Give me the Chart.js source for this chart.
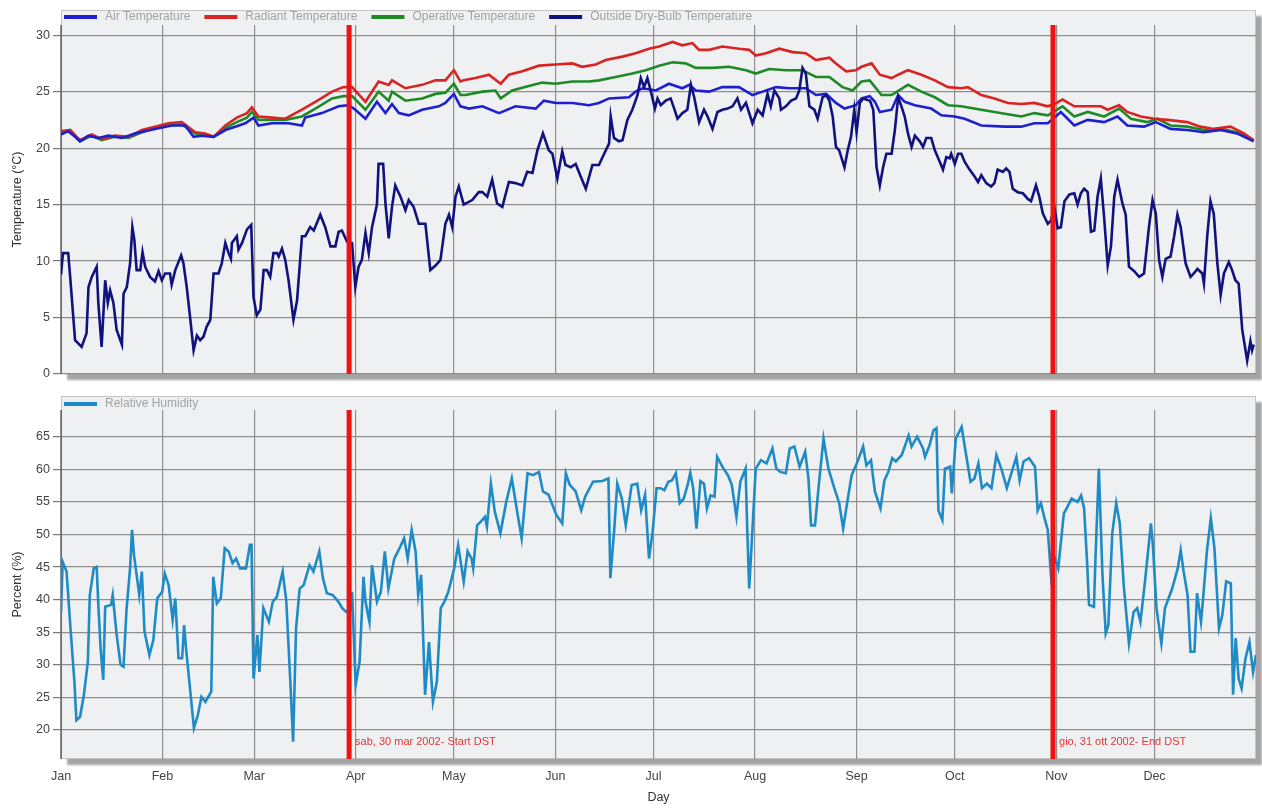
<!DOCTYPE html>
<html>
<head>
<meta charset="utf-8">
<script src="https://cdn.jsdelivr.net/npm/chart.js@4.4.1/dist/chart.umd.min.js"></script>
<style>
  html, body { margin: 0; padding: 0; background: #ffffff; }
  #wrap { position: relative; width: 1262px; height: 809px; overflow: hidden; }
  #tempBox { position: absolute; left: 0; top: 0; width: 1262px; height: 392px; }
  #rhBox { position: absolute; left: 0; top: 390px; width: 1262px; height: 419px; }
</style>
</head>
<body>
<div id="wrap">
  <div id="tempBox"><canvas id="tempChart" width="1262" height="392"></canvas></div>
  <div id="rhBox"><canvas id="rhChart" width="1262" height="419"></canvas></div>
</div>
<script>
// ---- Axis layout (day of year 2002, Jan 1 = 0) ----
const monthStarts = [0, 31, 59, 90, 120, 151, 181, 212, 243, 273, 304, 334];
const monthNames = ['Jan', 'Feb', 'Mar', 'Apr', 'May', 'Jun', 'Jul', 'Aug', 'Sep', 'Oct', 'Nov', 'Dec'];
const tempTicks = [0, 5, 10, 15, 20, 25, 30];
const rhTicks = [20, 25, 30, 35, 40, 45, 50, 55, 60, 65];

// ---- Daylight saving markers ----
const dstDays = [88, 303];
const dstLabels = ['sab, 30 mar 2002- Start DST', 'gio, 31 ott 2002- End DST'];

// ---- Air temperature (°C) ----
const airDays = [0, 2.2, 4.3, 5.8, 8.4, 11.4, 14.5, 18.6, 22.6, 28.7,
  33.8, 37.9, 40.5, 43, 46.6, 50.2, 53.2, 56.3, 58.8, 60.3,
  64.4, 69.5, 73.6, 74.6, 79.7, 84.8, 87.9, 89.9, 93, 96.5,
  99.1, 101.1, 103.2, 106.2, 110.3, 115.4, 117.4, 120, 122, 124.6,
  128.7, 133.8, 138.8, 145, 147.5, 151.1, 156.2, 161.3, 164.3, 167.4,
  173.5, 175.5, 177.6, 181.7, 185.7, 189.8, 191.9, 193.9, 198, 202,
  207.1, 211.2, 214.3, 218.4, 222.4, 227.5, 230.6, 233.7, 236.7, 239.3,
  242.8, 244.5, 247, 248.6, 250.1, 253.7, 255.7, 257.7, 260.8, 265.8,
  268.9, 273, 276, 281.1, 288.2, 293.3, 297.3, 301.4, 305.4, 309.5,
  313.6, 318.6, 322.7, 325.7, 330.8, 334.4, 338.9, 344, 349.1, 354.2,
  359.2, 364.3];
const airTemp = [21.2, 21.5, 21.0, 20.6, 21.1, 20.9, 21.1, 20.9, 21.3, 21.7,
  22.0, 22.0, 21.0, 21.1, 21.0, 21.6, 21.9, 22.2, 22.7, 22.0,
  22.2, 22.2, 22.0, 22.7, 23.1, 23.7, 23.8, 23.4, 22.6, 24.1,
  23.1, 23.9, 23.1, 22.9, 23.4, 23.7, 24.0, 24.8, 23.7, 23.5,
  23.7, 23.1, 23.7, 23.5, 24.2, 24.0, 24.0, 23.8, 24.0, 24.4,
  24.5, 25.0, 25.3, 25.1, 25.7, 25.3, 25.6, 25.1, 25.0, 25.4,
  25.4, 24.7, 25.0, 25.4, 25.3, 25.3, 24.7, 24.8, 24.0, 23.5,
  23.8, 24.4, 24.6, 24.1, 23.2, 23.4, 24.7, 24.1, 23.8, 23.5,
  22.9, 22.8, 22.6, 22.0, 21.9, 21.9, 22.2, 22.2, 23.2, 22.0,
  22.5, 22.3, 22.8, 22.0, 21.9, 22.3, 21.7, 21.6, 21.4, 21.6,
  21.3, 20.6];

// ---- Radiant temperature (°C) ----
const radDays = [0, 2.8, 5.8, 9.4, 12.4, 16.5, 20.6, 24.7, 28.7, 32.8,
  36.9, 41, 44, 46.6, 50.2, 53.7, 56.8, 58.3, 60.3, 64.4,
  68.5, 73.6, 77.7, 82.8, 86.3, 88.9, 93, 97, 100.1, 101.1,
  105.2, 110.3, 114.4, 117.4, 120, 122, 123, 126.6, 130.7, 134.3,
  136.8, 140.9, 146, 151.1, 156.2, 159.2, 163.3, 166.4, 171.5, 175.5,
  179.6, 182.7, 186.8, 189.8, 192.9, 194.9, 198, 202, 207.1, 210.2,
  212.2, 215.3, 219.4, 223.5, 227.5, 230.6, 234.7, 236.7, 239.8, 242.8,
  244.5, 247.6, 250.1, 253.7, 255.7, 258.7, 262.8, 266.9, 270.9, 275,
  277, 281.1, 285.1, 289.2, 293.3, 297.3, 301.4, 303.4, 305.9, 309.5,
  313.6, 317.6, 319.7, 323.2, 325.7, 329.8, 333.9, 337.9, 344, 348,
  352.1, 357.2, 361.3, 364.3];
const radTemp = [21.5, 21.6, 20.7, 21.2, 20.8, 21.1, 21.0, 21.6, 21.9, 22.2,
  22.3, 21.4, 21.3, 21.0, 22.0, 22.7, 23.1, 23.6, 22.8, 22.7,
  22.6, 23.4, 24.1, 25.0, 25.4, 25.4, 24.1, 25.9, 25.6, 26.0,
  25.3, 25.6, 26.0, 26.0, 26.9, 25.9, 26.0, 26.2, 26.5, 25.7,
  26.5, 26.8, 27.3, 27.4, 27.5, 27.2, 27.4, 27.8, 28.1, 28.4,
  28.8, 29.0, 29.4, 29.1, 29.3, 28.7, 28.7, 29.0, 28.8, 28.7,
  28.2, 28.4, 28.8, 28.5, 28.4, 27.8, 28.0, 27.5, 26.8, 26.9,
  27.2, 27.5, 26.5, 26.2, 26.5, 26.9, 26.5, 26.0, 25.4, 25.3,
  25.4, 24.7, 24.4, 24.0, 23.9, 24.0, 23.7, 23.9, 24.3, 23.7,
  23.7, 23.7, 23.4, 23.8, 23.2, 22.8, 22.6, 22.5, 22.3, 21.9,
  21.7, 21.9, 21.3, 20.7];

// ---- Operative temperature (°C) ----
const opDays = [0, 2.8, 5.8, 9.4, 12.4, 16.5, 20.6, 24.7, 28.7, 32.8,
  36.9, 41, 44, 46.6, 50.2, 53.7, 56.8, 58.3, 60.3, 64.4,
  68.5, 73.6, 77.7, 82.8, 86.3, 88.9, 93, 97, 100.1, 101.1,
  105.2, 110.3, 114.4, 117.4, 120, 122, 123.6, 128.7, 132.7, 134.3,
  137.8, 142.9, 147, 151.1, 156.2, 161.3, 164.3, 169.4, 174.5, 178.6,
  182.7, 186.8, 190.8, 193.9, 199, 204.1, 209.2, 212.2, 216.3, 221.4,
  226.5, 230.6, 234.7, 238.7, 241.8, 244.5, 247, 250.6, 253.7, 258.7,
  262.8, 266.9, 270.9, 275, 281.1, 285.1, 289.2, 293.3, 297.3, 301.4,
  305.9, 309.5, 313.6, 318.6, 323.2, 326.8, 331.8, 334.9, 338.9, 344,
  349.1, 354.2, 359.2, 364.3];
const opTemp = [21.4, 21.6, 20.6, 21.1, 20.7, 21.0, 20.9, 21.4, 21.8, 22.0,
  22.1, 21.3, 21.2, 21.0, 21.8, 22.3, 22.7, 23.2, 22.5, 22.5,
  22.5, 22.8, 23.5, 24.4, 24.6, 24.6, 23.4, 25.0, 24.2, 25.0,
  24.2, 24.4, 24.8, 24.9, 25.7, 24.7, 24.7, 25.0, 25.1, 24.4,
  25.1, 25.5, 25.8, 25.7, 25.9, 25.9, 26.0, 26.3, 26.6, 26.9,
  27.3, 27.6, 27.5, 27.1, 27.1, 27.2, 26.9, 26.6, 27.0, 26.9,
  26.9, 26.3, 26.3, 25.4, 25.1, 25.9, 26.0, 24.7, 24.7, 25.6,
  25.0, 24.5, 23.8, 23.7, 23.4, 23.2, 23.0, 22.8, 23.1, 22.9,
  23.7, 22.8, 23.2, 22.8, 23.5, 22.6, 22.3, 22.6, 22.0, 21.9,
  21.6, 21.7, 21.4, 20.7];

// ---- Outside dry-bulb temperature (°C) ----
const outDays = [0, 0.6, 2.2, 2.8, 4.3, 6.3, 7.8, 8.4, 9.4, 10.9,
  11.4, 12.4, 13.5, 14.3, 15, 16, 17, 18.6, 19.1, 20.1,
  21.1, 21.8, 22.4, 23.1, 24.2, 24.9, 25.7, 27.2, 28.7, 29.8,
  30.8, 31.8, 33.3, 33.8, 34.9, 36.7, 37.4, 38.4, 39.4, 40.5,
  41.5, 42.5, 43.5, 44.5, 45.6, 46.6, 48.1, 49.1, 50.2, 51.2,
  51.9, 52.2, 53.7, 54.2, 55.3, 56.8, 58.1, 58.8, 59.8, 60.9,
  61.9, 62.9, 63.9, 64.9, 66, 66.5, 67.5, 68.5, 69.5, 71,
  72.1, 73.6, 74.6, 76.1, 77.2, 79.2, 80.7, 82.3, 83.8, 84.8,
  85.8, 87.4, 88.9, 89.9, 90.9, 91.9, 93, 94, 95, 96.5,
  97, 98.4, 99.1, 100.1, 101.1, 102.1, 103.7, 105.2, 106.2, 107.7,
  109.3, 111.3, 112.8, 114.4, 115.9, 117.4, 118.5, 119.5, 120.5, 121.5,
  123, 125.6, 127.6, 128.7, 130.2, 131.7, 133.2, 134.8, 136.8, 138.8,
  140.9, 142.4, 144, 145.5, 147.2, 149, 150.1, 151.6, 153.1, 154.1,
  155.7, 157.2, 158.7, 160.3, 162.3, 164.3, 165.9, 167.4, 167.9, 168.9,
  170.4, 171.5, 173, 174.5, 176.1, 177.1, 178.1, 179.1, 180.1, 181.4,
  182.2, 183.2, 184.7, 186.2, 187.3, 188.3, 189.8, 191.3, 192.4, 193.4,
  194.9, 196.4, 197.5, 199, 200.5, 202, 203.6, 205.1, 206.6, 207.7,
  209.2, 211.2, 212.8, 214.3, 215.8, 216.8, 217.9, 219.4, 219.9, 221.4,
  223, 224.5, 225.5, 226.5, 227.5, 228.6, 230.1, 231.1, 232.6, 233.7,
  234.7, 235.7, 236.7, 237.7, 239.3, 240.3, 241.3, 242.3, 243, 244,
  245, 247.1, 248.1, 249.1, 250.1, 251.1, 252.1, 253.7, 254.7, 255.7,
  256.7, 257.7, 258.7, 259.8, 260.8, 262.3, 263.3, 264.3, 265.8, 266.9,
  268.4, 269.4, 270.4, 271.4, 271.9, 273, 274, 275, 276, 277.5,
  279, 280.1, 281.1, 282.6, 284.1, 285.1, 286.1, 287.7, 288.7, 289.7,
  290.7, 292.2, 293.8, 295.3, 296.3, 297.8, 298.8, 299.9, 301.4, 302.4,
  303.4, 304.4, 305.4, 306.5, 308, 309.5, 310.5, 311.5, 312.5, 313.6,
  314.6, 315.6, 316.6, 317.6, 318.6, 319.7, 320.7, 321.7, 322.7, 324.2,
  325.2, 326.2, 327.8, 329.3, 330.8, 332.3, 333.4, 334.4, 335.4, 336.4,
  337.4, 338.9, 340, 341, 342, 343.5, 345, 346, 347.1, 348.6,
  349.1, 350.1, 351.1, 352.1, 353.2, 354.2, 355.2, 356.7, 357.7, 358.7,
  359.7, 360.8, 362.3, 363.3, 363.8, 364.3];
const outTemp = [8.8, 10.7, 10.7, 8.6, 3.0, 2.4, 3.6, 7.7, 8.6, 9.5,
  6.3, 2.4, 8.3, 6.3, 7.4, 6.3, 3.9, 2.6, 7.1, 7.7,
  9.8, 13.0, 11.9, 9.2, 9.2, 10.8, 9.5, 8.6, 8.2, 9.1,
  8.3, 8.9, 8.9, 7.9, 9.2, 10.5, 9.8, 7.7, 5.1, 2.1,
  3.4, 3.0, 3.3, 4.2, 4.8, 8.9, 8.9, 9.8, 11.6, 10.7,
  10.2, 11.6, 12.2, 11.0, 11.6, 12.8, 13.2, 6.8, 5.2, 5.7,
  9.2, 9.2, 8.6, 10.7, 10.7, 10.4, 11.1, 10.1, 8.3, 4.8,
  6.5, 12.2, 12.2, 13.0, 12.7, 14.1, 13.0, 11.3, 11.3, 12.6,
  12.7, 11.7, 11.6, 7.7, 9.5, 10.1, 12.5, 10.7, 13.0, 15.0,
  18.6, 18.6, 15.1, 12.0, 14.8, 16.7, 15.7, 14.5, 15.4, 14.8,
  13.3, 13.3, 9.2, 9.6, 10.1, 13.3, 14.1, 13.0, 15.7, 16.6,
  15.0, 15.4, 16.1, 16.1, 15.7, 17.2, 15.1, 14.8, 17.0, 16.9,
  16.7, 17.9, 17.8, 19.8, 21.3, 19.8, 19.5, 17.3, 19.7, 18.5,
  18.3, 18.6, 17.5, 16.4, 18.5, 18.5, 19.5, 20.4, 22.8, 20.9,
  20.6, 20.7, 22.5, 23.4, 24.7, 26.2, 25.4, 26.2, 25.1, 23.5,
  24.4, 23.8, 24.2, 24.4, 23.5, 22.6, 23.1, 23.4, 25.6, 24.5,
  22.3, 23.4, 22.8, 21.7, 23.2, 23.4, 23.5, 23.7, 24.4, 23.4,
  24.0, 22.2, 23.4, 22.9, 24.8, 23.7, 25.1, 24.4, 23.4, 23.7,
  24.2, 24.4, 25.1, 27.1, 26.6, 23.7, 23.4, 22.6, 24.5, 24.7,
  24.2, 22.8, 20.1, 19.8, 18.3, 19.8, 21.0, 23.4, 21.4, 24.0,
  24.4, 24.2, 23.4, 18.3, 16.7, 18.3, 19.5, 19.5, 21.6, 24.5,
  23.7, 22.8, 21.3, 20.1, 21.1, 20.6, 20.1, 20.9, 20.9, 19.8,
  18.8, 18.1, 19.2, 19.1, 19.5, 18.6, 19.5, 19.5, 18.8, 18.1,
  17.5, 17.0, 17.6, 16.9, 16.6, 16.9, 18.1, 17.9, 18.2, 17.9,
  16.4, 16.1, 16.0, 15.5, 15.3, 16.7, 15.7, 14.2, 13.3, 13.6,
  14.8, 12.9, 13.0, 15.3, 15.9, 16.0, 15.0, 16.0, 16.4, 16.1,
  12.6, 12.7, 15.7, 17.3, 13.9, 9.6, 11.3, 15.7, 17.2, 15.1,
  14.1, 9.5, 9.1, 8.6, 8.9, 13.0, 15.4, 14.2, 10.1, 8.6,
  10.2, 10.4, 12.2, 14.1, 13.0, 9.8, 8.6, 8.9, 9.3, 8.9,
  8.0, 12.2, 15.3, 14.2, 9.8, 7.0, 8.9, 9.9, 9.2, 8.3,
  8.0, 3.9, 1.2, 2.9, 2.1, 2.6];

// ---- Relative humidity (%) ----
const rhDays = [0, 0.5, 1.7, 2.9, 4.1, 4.7, 5.8, 7.0, 8.2, 8.8,
  10, 10.9, 11.4, 12.1, 12.9, 13.5, 15.3, 15.8, 17, 18.2,
  19.1, 20, 21.1, 21.7, 22.3, 23.1, 23.9, 24.7, 25.5, 27,
  28.2, 29.4, 30.9, 31.7, 32.9, 34.1, 34.9, 35.9, 37, 37.6,
  38.2, 39.4, 40.6, 41.8, 42.9, 44.1, 45.9, 46.5, 47.6, 48.8,
  50, 51.2, 52.4, 53.5, 54.7, 56.5, 57.7, 58.2, 58.8, 60,
  60.6, 61.8, 63.5, 64.7, 65.9, 67.7, 68.8, 70, 70.9, 71.8,
  72.9, 74.1, 75.9, 77.1, 78.9, 80, 81.2, 83, 84.7, 85.9,
  87.1, 88.3, 88.9, 90, 91.2, 92.4, 93, 94.2, 95, 96.5,
  97.7, 98.9, 100, 101.8, 103.6, 104.8, 105.9, 107.1, 108.3, 109.1,
  110, 111.2, 112.4, 113.6, 114.8, 116, 117.1, 118.3, 120.1, 121.3,
  123, 124.2, 125.4, 125.9, 127.1, 128.3, 129.5, 130.1, 131.3, 132.5,
  134.2, 136, 137.7, 139.5, 140.7, 142.5, 144.2, 146, 147.2, 148.9,
  151.3, 153.1, 154.2, 155.4, 157.2, 158.9, 160.1, 162.5, 165.4, 167.2,
  167.8, 169, 169.9, 171.3, 172.5, 174.3, 176, 177.2, 178.4, 179.6,
  180.7, 181.9, 183.1, 184.3, 185.5, 186.6, 187.8, 189, 190.2, 191.4,
  192.2, 193.1, 194.1, 195.3, 196.4, 197.3, 198.4, 199.6, 200.4, 202,
  203.7, 204.9, 206.3, 207.5, 209.1, 209.6, 210.2, 211.1, 212.2, 213.8,
  215.5, 217.3, 218.5, 219.7, 221.4, 222.6, 224, 225.6, 227.3, 228.3,
  229.1, 230.3, 231.5, 232.9, 234.4, 236.2, 237.7, 238.9, 240.1, 241.5,
  243.3, 245, 246, 247.4, 248.6, 250.3, 251.5, 252.7, 253.9, 255,
  256.8, 258.9, 259.8, 261.5, 263.3, 263.9, 265.3, 266.5, 267.4, 268,
  269.2, 270, 271.6, 272.1, 273.3, 275.1, 276.3, 277.8, 279, 280.2,
  281.3, 282.8, 284.2, 285.7, 287.2, 288.9, 290.4, 291.8, 292.8, 294,
  295.7, 297.5, 298.3, 299.3, 300.4, 301.4, 302.6, 303.4, 304.6, 306.3,
  308.7, 310.5, 311.6, 312.5, 313.4, 314, 315.5, 316, 317, 318.1,
  319.1, 319.9, 321.1, 322.3, 323.4, 324.6, 326.2, 327.6, 328.7, 329.7,
  331.1, 332.9, 333.5, 334.6, 336.1, 337.2, 339.4, 341.1, 342, 342.9,
  344.1, 345, 346.2, 347, 348.2, 348.8, 350, 351.2, 352.3, 353.7,
  354.7, 355.9, 357.3, 358, 358.8, 359.7, 360.6, 361.8, 363, 364.1,
  365];
const rhValues = [38.0, 45.8, 44.3, 35.6, 27.4, 21.5, 22.0, 25.4, 30.5, 40.7,
  44.8, 45.0, 39.2, 32.5, 27.7, 38.9, 39.2, 40.7, 34.6, 30.0,
  29.7, 38.4, 44.8, 50.7, 46.8, 43.8, 40.7, 44.3, 35.1, 31.5,
  33.8, 40.2, 41.2, 44.0, 42.2, 36.9, 40.2, 31.0, 31.0, 36.1,
  32.5, 26.4, 20.3, 22.3, 25.1, 24.3, 25.9, 43.5, 39.4, 40.2,
  47.9, 47.4, 45.6, 46.3, 44.8, 44.8, 48.4, 48.4, 27.9, 34.6,
  28.9, 38.7, 36.6, 39.7, 40.4, 44.3, 39.9, 27.9, 18.2, 35.6,
  41.7, 42.2, 45.3, 44.3, 47.4, 43.3, 41.0, 40.7, 39.7, 38.7,
  38.1, 38.4, 41.2, 26.9, 30.5, 43.5, 39.7, 36.6, 45.3, 39.7,
  41.2, 47.4, 41.7, 46.3, 48.1, 49.4, 46.3, 50.7, 47.4, 40.7,
  43.8, 25.4, 33.5, 24.3, 27.4, 38.7, 39.7, 41.2, 44.8, 48.4,
  42.8, 47.4, 46.3, 44.8, 51.4, 52.0, 52.7, 51.2, 57.8, 53.5,
  50.2, 55.0, 58.6, 53.0, 49.4, 59.4, 59.1, 59.6, 56.6, 56.1,
  53.0, 51.7, 59.4, 57.6, 56.6, 53.7, 55.8, 58.1, 58.2, 58.6,
  43.3, 50.9, 57.8, 55.5, 51.4, 57.6, 57.8, 53.7, 56.1, 46.3,
  50.4, 57.1, 57.1, 56.8, 58.1, 58.3, 59.4, 54.8, 55.5, 57.6,
  59.5, 57.1, 50.9, 58.2, 57.8, 54.0, 56.0, 55.8, 61.9, 60.4,
  59.1, 57.6, 52.7, 58.1, 60.1, 50.9, 41.7, 49.9, 60.1, 61.4,
  60.9, 63.2, 60.1, 59.6, 59.4, 63.2, 63.5, 60.4, 62.7, 58.6,
  51.4, 51.4, 57.8, 64.7, 60.1, 57.1, 54.8, 50.9, 54.8, 59.1,
  61.2, 63.5, 60.6, 61.4, 56.6, 54.0, 58.3, 59.6, 61.7, 61.2,
  62.2, 65.2, 63.5, 65.0, 63.2, 61.9, 63.7, 66.0, 66.3, 53.7,
  52.2, 60.1, 60.4, 56.3, 64.7, 66.5, 62.7, 58.1, 58.6, 60.9,
  57.1, 57.8, 57.1, 62.2, 60.1, 57.1, 59.6, 61.9, 58.3, 61.2,
  61.7, 60.4, 53.7, 54.8, 52.5, 50.7, 42.2, 46.6, 44.8, 53.2,
  55.5, 55.0, 56.0, 54.0, 45.8, 39.2, 38.9, 46.8, 60.1, 43.8,
  34.8, 36.1, 50.2, 54.8, 51.7, 42.2, 33.3, 38.1, 38.7, 36.6,
  42.8, 51.7, 48.4, 38.7, 33.3, 38.7, 41.7, 44.8, 47.6, 44.3,
  40.7, 32.0, 32.0, 41.0, 36.6, 39.9, 47.4, 52.5, 47.9, 35.6,
  37.6, 42.8, 42.5, 25.4, 34.1, 27.9, 26.4, 31.0, 33.5, 28.9,
  31.5];

const FONT = '"Liberation Sans", Arial, Helvetica, sans-serif';
Chart.defaults.font.family = FONT;
Chart.defaults.color = '#444444';

function pairs(xs, ys) {
  const n = Math.min(xs.length, ys.length);
  const out = [];
  for (let i = 0; i < n; i++) out.push({ x: xs[i], y: ys[i] });
  return out;
}

function lineSet(label, xs, ys, color, order) {
  return {
    label, data: pairs(xs, ys), borderColor: color, backgroundColor: color,
    borderWidth: 2.6, pointRadius: 0, tension: 0, fill: false, order
  };
}

// Plot box with drop shadow, inline legend strip, DST markers
const plotFrame = {
  id: 'plotFrame',
  beforeDraw(chart, args, opts) {
    const { ctx, chartArea: a } = chart;
    const top = a.top - opts.strip;
    const w = a.right - a.left, h = a.bottom - top;
    ctx.save();
    ctx.filter = 'blur(1px)';
    ctx.fillStyle = '#a4a4a4';
    ctx.fillRect(a.left + 6, top + 6, w, h);
    ctx.filter = 'none';
    ctx.fillStyle = '#eff0f1';
    ctx.fillRect(a.left, top, w, h);
    ctx.strokeStyle = '#c4c4c4';
    ctx.lineWidth = 1;
    ctx.strokeRect(a.left + 0.5, top + 0.5, w - 1, h - 1);
    ctx.restore();
  },
  afterDatasetsDraw(chart, args, opts) {
    const { ctx, chartArea: a, scales } = chart;
    ctx.save();
    ctx.strokeStyle = '#f01212';
    ctx.lineWidth = 5;
    dstDays.forEach((d, i) => {
      const x = scales.x.getPixelForValue(d);
      ctx.beginPath();
      ctx.moveTo(x, a.top);
      ctx.lineTo(x, a.bottom);
      ctx.stroke();
      if (opts.dstText) {
        ctx.font = '11px ' + FONT;
        ctx.fillStyle = '#e0383c';
        ctx.textBaseline = 'middle';
        ctx.textAlign = 'left';
        ctx.fillText(dstLabels[i], x + 6, a.bottom - 17);
      }
    });
    ctx.restore();
  },
  afterDraw(chart, args, opts) {
    const { ctx, chartArea: a } = chart;
    const y = a.top - opts.legendOffset;
    let x = a.left + 3;
    ctx.save();
    ctx.font = '12px ' + FONT;
    ctx.textBaseline = 'middle';
    ctx.textAlign = 'left';
    chart.data.datasets.forEach(ds => {
      ctx.fillStyle = ds.borderColor;
      ctx.fillRect(x, y - 2, 33, 4);
      x += 41;
      ctx.fillStyle = '#a3a3a3';
      ctx.fillText(ds.label, x, y);
      x += ctx.measureText(ds.label).width + 14;
    });
    ctx.restore();
  }
};

function yAxis(min, max, ticks, title) {
  return {
    type: 'linear', position: 'left', min, max,
    afterBuildTicks: s => { s.ticks = ticks.map(v => ({ value: v })); },
    afterFit: s => { s.width = 61; },
    ticks: { color: '#444444', font: { size: 12.5 }, padding: 3 },
    grid: { color: '#8f8f8f', lineWidth: 1.2, tickLength: 8, tickColor: '#777777' },
    border: { color: '#6c6c6c', width: 1 },
    title: { display: true, text: title, color: '#333333', font: { size: 12.5 }, padding: { top: 10, bottom: 0 } }
  };
}

function xAxis(showLabels) {
  return {
    type: 'linear', position: 'bottom', min: 0, max: 365,
    afterBuildTicks: s => { s.ticks = monthStarts.map(v => ({ value: v })); },
    afterFit: s => { s.height = showLabels ? 50 : 0; },
    ticks: {
      display: showLabels, autoSkip: false, maxRotation: 0, padding: 10,
      color: '#444444', font: { size: 12.5 },
      callback: v => monthNames[monthStarts.indexOf(v)]
    },
    grid: { color: '#8f8f8f', lineWidth: 1.2, drawTicks: false },
    border: { display: false },
    title: { display: showLabels, text: 'Day', color: '#333333', font: { size: 12.5 }, padding: { top: 8, bottom: 4 } }
  };
}

const common = {
  responsive: false,
  animation: false,
  devicePixelRatio: 1,
  events: [],
  plugins: { legend: { display: false }, tooltip: { enabled: false } }
};

new Chart(document.getElementById('tempChart'), {
  type: 'line',
  data: {
    datasets: [
      lineSet('Air Temperature', airDays, airTemp, '#1f1fd2', 1),
      lineSet('Radiant Temperature', radDays, radTemp, '#d92424', 1),
      lineSet('Operative Temperature', opDays, opTemp, '#1e8a26', 1),
      lineSet('Outside Dry-Bulb Temperature', outDays, outTemp, '#10127e', 0)
    ]
  },
  options: {
    ...common,
    layout: { padding: { top: 25, right: 6, bottom: 18, left: 0 } },
    scales: { x: xAxis(false), y: yAxis(0, 30.9, tempTicks, 'Temperature (°C)') },
    plugins: { ...common.plugins, plotFrame: { strip: 15, legendOffset: 8, dstText: false } }
  },
  plugins: [plotFrame]
});

new Chart(document.getElementById('rhChart'), {
  type: 'line',
  data: {
    datasets: [
      lineSet('Relative Humidity', rhDays, rhValues, '#1f8bc6', 0)
    ]
  },
  options: {
    ...common,
    layout: { padding: { top: 20, right: 6, bottom: 0, left: 0 } },
    scales: { x: xAxis(true), y: yAxis(15.55, 69.1, rhTicks, 'Percent (%)') },
    plugins: { ...common.plugins, plotFrame: { strip: 14, legendOffset: 6, dstText: true } }
  },
  plugins: [plotFrame]
});
</script>
</body>
</html>
